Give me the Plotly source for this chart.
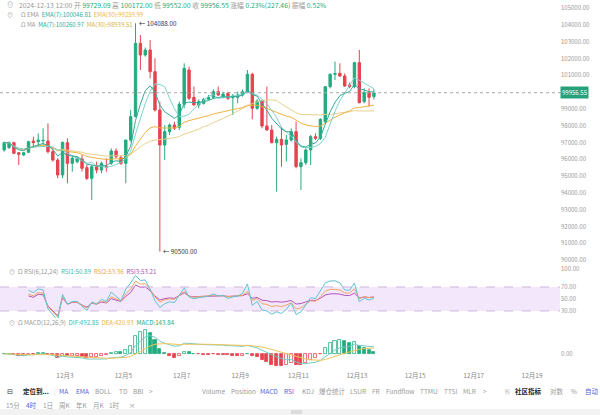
import plotly.graph_objects as go
import pandas as pd

# ---------------- data (4h candles) ----------------
start_time = "2024-11-30 20:00"
opens = [96550, 96700, 96984, 96389, 96250, 96409, 97084, 97044, 97103, 97084,
         96449, 95952, 95060, 96984, 95754, 95854, 96012, 95496, 94862, 95556,
         95357, 95560, 95754, 96488, 96091, 95754, 97143, 98532, 102897, 102202,
         102500, 101210, 98929, 96845, 97639, 98036, 97900, 99266, 101310, 99683,
         99226, 99325, 99564, 99683, 100020, 99722, 99921, 99663, 99683, 99821,
         100020, 101052, 99028, 99464, 97976, 97738, 96984, 97183, 96885, 97143,
         97639, 95556, 95794, 96548, 97341, 97242, 98234, 100317, 101052, 101111,
         100952, 100417, 100317, 101746, 99425, 99960, 99729.09]
highs = [97050, 97050, 97044, 96420, 96420, 97100, 97341, 97540, 97838, 98135,
         96647, 96052, 97044, 97242, 96250, 96150, 96250, 95655, 95655, 95854,
         95854, 96052, 96647, 96647, 96250, 97143, 98929, 104088, 103393, 102650,
         103095, 102004, 99425, 98036, 98135, 98234, 99425, 101706, 101508, 100317,
         99564, 99650, 99821, 100159, 100317, 100020, 100020, 99881, 100020, 100159,
         101309, 101150, 99564, 99524, 100317, 98036, 97341, 97936, 97441, 97837,
         98234, 96052, 96647, 97441, 97540, 98433, 100330, 101111, 101805, 101706,
         101111, 100556, 101805, 102500, 100218, 100218, 100172.00]
lows = [96450, 96600, 96300, 95655, 96200, 96380, 96746, 96746, 96746, 96349,
        95854, 94862, 94862, 94564, 95258, 95750, 95258, 94762, 93572, 95159,
        95159, 95258, 95655, 96052, 95655, 94564, 97044, 98500, 101310, 102100,
        100813, 98830, 90500, 95952, 97441, 97738, 97738, 99028, 99524, 99200,
        99028, 99250, 99524, 99564, 99762, 99623, 99524, 98631, 99325, 99722,
        99921, 98373, 98929, 97837, 97700, 96945, 94068, 95556, 95853, 97044,
        95457, 94167, 95655, 95655, 97143, 97143, 98135, 100218, 100714, 100900,
        100317, 100218, 100218, 99325, 99325, 99127, 99552.00]
closes = [96980, 96984, 96349, 96290, 96389, 97044, 96984, 97143, 97120, 96449,
          95952, 95060, 97004, 95754, 96052, 96052, 95457, 94862, 95556, 95357,
          95754, 95540, 96488, 96151, 95754, 97143, 98532, 102897, 102202, 102500,
          101210, 98929, 96845, 97639, 98036, 97838, 99266, 101409, 99623, 99226,
          99425, 99564, 99683, 100020, 99821, 99881, 99623, 99762, 99821, 100020,
          101052, 99028, 99464, 97976, 97738, 96984, 97183, 96845, 97143, 97639,
          95556, 95794, 96548, 97341, 97242, 98373, 100317, 101052, 101100, 100952,
          100357, 100317, 101746, 99365, 99960, 99683, 99956.55]

tick_dates = ["2024-12-03", "2024-12-05", "2024-12-07", "2024-12-09", "2024-12-11",
              "2024-12-13", "2024-12-15", "2024-12-17", "2024-12-19"]
tick_labels = ["12月3", "12月5", "12月7", "12月9", "12月11", "12月13", "12月15", "12月17", "12月19"]
# 100000.00 sits under the last-price tag in the reference, so it is not listed
price_ticks = [90000, 91000, 92000, 93000, 94000, 95000, 96000, 97000, 98000,
               99000, 101000, 102000, 103000, 104000, 105000]
rsi_ticks = [30, 50, 70, 100]

# ---------------- styling ----------------
GREEN = "#22ab7f"
RED = "#e5434f"
GREY = "#9a9a9a"
FONT = "Noto Sans CJK SC, Noto Sans, sans-serif"
PH = 370.0  # plot-area height in px (height 415 - bottom margin 45)


def fy(px):
    return 1 - px / PH


times = pd.date_range(start_time, periods=len(closes), freq="4h") + pd.Timedelta(hours=2)
cs = pd.Series(closes, dtype=float)

# indicators derived from the closes
ma7 = cs.rolling(7, min_periods=1).mean()
ma30 = cs.rolling(30, min_periods=1).mean()
ema7 = cs.ewm(span=7, adjust=True).mean()
ema30 = cs.ewm(span=30, adjust=True).mean()


def rsi(series, n):
    d = series.diff()
    up = d.clip(lower=0).ewm(alpha=1 / n, adjust=True).mean()
    dn = (-d).clip(lower=0).ewm(alpha=1 / n, adjust=True).mean()
    r = 100 * up / (up + dn)
    r.iloc[:5] = None
    return r


rsi1, rsi2, rsi3 = rsi(cs, 6), rsi(cs, 12), rsi(cs, 24)
ema12 = cs.ewm(span=12, adjust=False).mean()
ema26 = cs.ewm(span=26, adjust=False).mean()
dif = ema12 - ema26
dea = dif.ewm(span=9, adjust=False).mean()
hist = 2 * (dif - dea)

bar_fill, bar_line = [], []
prev = 0.0
for h in hist:
    if h >= 0:
        bar_line.append(GREEN)
        bar_fill.append("rgba(255,255,255,1)" if h >= prev else GREEN)
    else:
        bar_line.append(RED)
        bar_fill.append(RED if h <= prev else "rgba(255,255,255,1)")
    prev = h

fig = go.Figure()
fig.add_trace(go.Candlestick(
    x=times, open=opens, high=highs, low=lows, close=closes,
    increasing=dict(line=dict(color=GREEN, width=1), fillcolor=GREEN),
    decreasing=dict(line=dict(color=RED, width=1), fillcolor=RED),
    whiskerwidth=0, showlegend=False, xaxis="x", yaxis="y"))
for s, c in [(ma30, "#e9d08e"), (ema30, "#efb442"), (ma7, "#7fd3cc"), (ema7, "#35a99c")]:
    fig.add_trace(go.Scatter(x=times, y=s, mode="lines", line=dict(color=c, width=1),
                             showlegend=False, hoverinfo="skip", xaxis="x", yaxis="y"))

for s, c in [(rsi3, "#b552b8"), (rsi2, "#f2a664"), (rsi1, "#5ec3d3")]:
    fig.add_trace(go.Scatter(x=times, y=s, mode="lines", line=dict(color=c, width=1),
                             showlegend=False, hoverinfo="skip", xaxis="x", yaxis="y2"))

fig.add_trace(go.Bar(x=times, y=hist, width=4 * 3600 * 1000 * 0.62,
                     marker=dict(color=bar_fill, line=dict(color=bar_line, width=0.8)),
                     showlegend=False, xaxis="x", yaxis="y3"))
fig.add_trace(go.Scatter(x=times, y=dif, mode="lines", line=dict(color="#72cbc3", width=1),
                         showlegend=False, xaxis="x", yaxis="y3"))
fig.add_trace(go.Scatter(x=times, y=dea, mode="lines", line=dict(color="#f0c45a", width=1),
                         showlegend=False, xaxis="x", yaxis="y3"))

last = closes[-1]
shapes = [
    dict(type="rect", xref="paper", yref="y2", x0=0, x1=1, y0=30, y1=70,
         fillcolor="#f3e7fc", line=dict(width=0), layer="below"),
    dict(type="line", xref="paper", yref="y2", x0=0, x1=1, y0=70, y1=70,
         line=dict(color="#cdb8dc", width=1, dash="dash")),
    dict(type="line", xref="paper", yref="y2", x0=0, x1=1, y0=30, y1=30,
         line=dict(color="#cdb8dc", width=1, dash="dash")),
    dict(type="line", xref="paper", yref="y", x0=0, x1=1, y0=last, y1=last,
         line=dict(color="#a8a8a8", width=1, dash="dot")),
    dict(type="rect", xref="paper", yref="paper", x0=0, x1=600 / 560.0,
         y0=fy(415), y1=fy(409), fillcolor="#f2f2f2", line=dict(width=0)),
    dict(type="rect", xref="paper", yref="paper", x0=291 / 560.0, x1=302 / 560.0,
         y0=fy(414), y1=fy(410), fillcolor="#dcdcdc", line=dict(width=0)),
]

ann = []


def txt(x, y, text, size=6, color=GREY, xanchor="left", bold=False, xref="paper", yref="paper"):
    if bold:
        text = "<b>" + text + "</b>"
    ann.append(dict(x=x, y=y, xref=xref, yref=yref, text=text, showarrow=False,
                    xanchor=xanchor, yanchor="middle", align="left",
                    font=dict(size=size, color=color, family=FONT)))


def px(x):
    return x / 560.0


def sp(t, c):
    return "<span style='color:%s'>%s</span>" % (c, t)


# header lines
txt(px(5), fy(5), "⊙", 6.3)
txt(px(17), fy(5), sp("2024-12-13 12:00 开 ", GREY) + sp("99729.09", GREEN) + sp(" 高 ", GREY)
    + sp("100172.00", GREEN) + sp(" 低 ", GREY) + sp("99552.00", GREEN) + sp(" 收 ", GREY)
    + sp("99956.55", GREEN) + sp(" 涨幅 ", GREY) + sp("0.23%(227.46)", GREEN) + sp(" 振幅 ", GREY)
    + sp("0.52%", GREEN), 6.8)
txt(px(5), fy(14), "⊙", 6.1)
txt(px(19), fy(14), sp("Ω EMA", GREY) + "  " + sp("EMA(7):100046.81", "#35a99c") + "  "
    + sp("EMA(30):99259.99", "#efb442"), 6.0)
txt(px(19), fy(24), sp("Ω MA", GREY) + "  " + sp("MA(7):100260.97", "#35a99c") + "  "
    + sp("MA(30):98939.51", "#d9b43c"), 6.0)

# high / low markers
i_hi = highs.index(max(highs))
i_lo = lows.index(min(lows))
ann.append(dict(x=times[i_hi], y=highs[i_hi], xref="x", yref="y", text="← %.2f" % highs[i_hi],
                showarrow=False, xanchor="left", yanchor="middle", xshift=1,
                font=dict(size=6.3, color="#333", family=FONT)))
ann.append(dict(x=times[i_lo], y=lows[i_lo], xref="x", yref="y", text="← %.2f" % lows[i_lo],
                showarrow=False, xanchor="left", yanchor="middle", xshift=1,
                font=dict(size=6.3, color="#333", family=FONT)))
# last price tag
ann.append(dict(x=1, y=last, xref="paper", yref="y", text="%.2f" % last, showarrow=False,
                xanchor="left", yanchor="middle", bgcolor="#26a17b", borderpad=1,
                font=dict(size=6, color="white", family=FONT)))

# RSI / MACD headers
txt(px(7), fy(271), "⊙", 6.2)
txt(px(16), fy(271), sp("Ω RSI(6,12,24)", GREY) + "  " + sp("RSI1:50.89", "#3fb9b0") + "  "
    + sp("RSI2:53.36", "#efa64a") + "  " + sp("RSI3:53.21", "#b552b8"), 6.2)
txt(px(7), fy(322), "⊙", 6.2)
txt(px(16), fy(322), sp("Ω MACD(12,26,9)", GREY) + "  " + sp("DIF:492.85", "#3fb9b0") + "  "
    + sp("DEA:420.93", "#efb442") + "  " + sp("MACD:143.84", GREEN), 6.2)

# toolbar row 1
BLUE = "#4f5fd6"
row1 = fy(390.5)
txt(px(5), row1, "⊟", 7, "#333")
txt(px(21), row1, "定位到...", 6.5, "#222", bold=True)
txt(px(52), row1, "|", 6.5, "#ddd")
for x, t, c in [(57, "MA", BLUE), (74, "EMA", BLUE), (93, "BOLL", GREY), (117, "TD", GREY),
                (131, "BBI", GREY), (147, ">", GREY), (200, "Volume", GREY), (229, "Position", GREY),
                (258, "MACD", BLUE), (282, "RSI", BLUE), (300, "KDJ", GREY), (317, "爆仓统计", GREY),
                (348, "LSUR", GREY), (370, "FR", GREY), (384, "Fundflow", GREY), (418, "TTMU", GREY),
                (442, "TTSI", GREY), (461, "MLR", GREY), (481, ">", GREY), (503, "⎘", GREY),
                (548, "对数", GREY), (569, "%", GREY), (583, "自动", BLUE)]:
    txt(px(x), row1, t, 6.5, c)
txt(px(513), row1, "社区指标", 6.5, "#222", bold=True)
row2 = fy(405)
for x, t, c in [(4, "15分", GREY), (24, "4时", BLUE), (41, "1日", GREY), (57, "周K", GREY),
                (74, "年K", GREY), (91, "月K", GREY), (107, "1时", GREY), (127, "×", GREY)]:
    txt(px(x), row2, t, 6.5, c)

fig.update_layout(
    width=600, height=415, margin=dict(l=0, r=40, t=0, b=45),
    paper_bgcolor="white", plot_bgcolor="white", showlegend=False,
    font=dict(family=FONT, size=6, color=GREY),
    bargap=0,
    xaxis=dict(anchor="y3", range=["2024-11-30 18:34", "2024-12-19 23:00"], type="date",
               tickvals=tick_dates, ticktext=tick_labels, showgrid=False, zeroline=False,
               showline=False, ticks="", tickfont=dict(size=6.5, color="#888"),
               rangeslider=dict(visible=False)),
    yaxis=dict(domain=[fy(262), 1], range=[89881, 105476], side="right", anchor="x",
               tickvals=price_ticks, ticktext=["%.2f" % v for v in price_ticks],
               showgrid=False, zeroline=False, ticks="", tickfont=dict(size=6, color="#999")),
    yaxis2=dict(domain=[fy(318), fy(264)], range=[18.3, 108.3], side="right", anchor="x",
                tickvals=rsi_ticks, ticktext=["%.2f" % v for v in rsi_ticks],
                showgrid=False, zeroline=False, ticks="", tickfont=dict(size=6, color="#999")),
    yaxis3=dict(domain=[0, fy(318)], range=[-1150, 2550], side="right", anchor="x",
                tickvals=[0], ticktext=["0.00"],
                showgrid=False, zeroline=False, ticks="", tickfont=dict(size=6, color="#999")),
    shapes=shapes, annotations=ann,
)

fig.write_html("out.html")
